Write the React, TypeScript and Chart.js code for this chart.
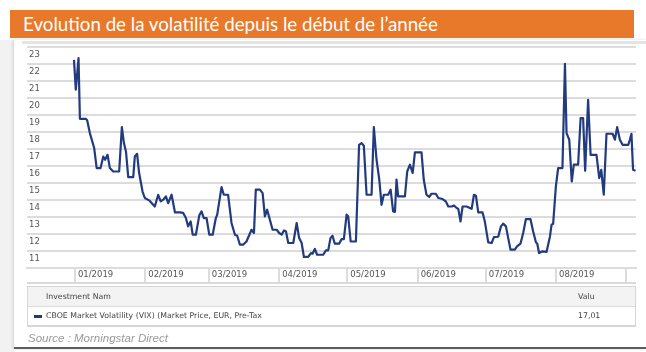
import React, { useEffect, useRef } from 'react';
import { Chart, registerables } from 'chart.js';

Chart.register(...registerables);

// Month separators (days since 2019-01-01) and their labels
const monthTickDays = [0, 31, 59, 90, 120, 151, 181, 212, 243];
const monthTickLabels = ['01/2019', '02/2019', '03/2019', '04/2019', '05/2019', '06/2019', '07/2019', '08/2019', ''];
const yTickLabels = ['11', '12', '13', '14', '15', '16', '17', '18', '19', '20', '21', '22', '23'];

// Series: day offset since 2019-01-01 and VIX value
const dayOffsets = [
  -0.4, 0.4, 1.6, 2.2, 4.8, 5.4, 6.6, 8.5, 9.6, 11.3, 12.5, 13.3, 14.4, 15.4, 16.9, 19.5, 20.7, 21.6, 22.5, 23.5,
  25.7, 26.4, 27.4, 28.3, 29.8, 30.8, 32.7, 35.2, 36.7, 37.8, 38.9, 40.1, 41.1, 42.6, 44.1, 46.3, 47.7, 48.9, 49.9, 51.0,
  51.9, 53.3, 54.8, 55.8, 56.8, 58.0, 59.2, 60.7, 62.1, 62.7, 64.6, 65.6, 67.5, 69.0, 70.5, 71.5, 72.7, 74.1, 75.6, 77.8,
  78.9, 79.7, 81.5, 82.7, 83.7, 84.7, 85.9, 87.1, 88.9, 90.0, 91.1, 92.1, 93.0, 94.0, 96.2, 97.7, 98.8, 99.9, 100.9, 102.8,
  104.0, 104.7, 105.7, 106.7, 109.4, 110.6, 111.6, 112.6, 113.5, 114.5, 116.4, 117.5, 118.5, 119.7, 120.4, 121.5, 123.8, 125.2, 126.3, 127.3,
  128.5, 130.7, 131.7, 132.9, 134.1, 135.1, 136.1, 138.0, 139.1, 140.2, 141.0, 141.7, 142.4, 145.4, 146.4, 147.6, 148.8, 149.8, 152.7, 153.7,
  154.9, 156.1, 157.1, 159.0, 160.1, 162.0, 163.4, 164.5, 166.0, 167.0, 168.2, 168.9, 169.9, 170.8, 172.6, 174.0, 174.8, 175.8, 176.7, 177.7,
  179.6, 180.6, 182.1, 183.6, 184.6, 186.5, 187.7, 188.7, 189.9, 190.9, 191.9, 193.8, 194.8, 196.3, 197.5, 198.7, 200.7, 201.9, 203.1, 203.7,
  204.5, 206.0, 207.8, 209.3, 210.0, 210.7, 211.9, 212.9, 214.8, 215.9, 216.6, 217.8, 218.9, 219.8, 221.7, 222.8, 223.9, 224.8, 226.1, 227.2,
  229.8, 231.0, 231.9, 233.0, 234.2, 236.9, 237.9, 238.9, 240.1, 241.3, 243.8, 244.5, 245.2, 245.9, 247.0,
];
const vixValues = [
  22.75, 21.0, 22.85, 19.28, 19.28, 19.2, 18.44, 17.56, 16.38, 16.38, 17.06, 16.87, 17.16, 16.38, 16.18, 16.18, 18.79, 17.85, 17.36, 15.85,
  15.85, 17.06, 17.22, 16.09, 15.0, 14.62, 14.48, 14.12, 14.81, 14.42, 14.52, 14.71, 14.32, 14.81, 13.77, 13.77, 13.74, 13.44, 12.95, 13.24,
  12.46, 12.46, 13.6, 13.83, 13.44, 13.44, 12.46, 12.46, 13.44, 13.64, 15.26, 14.81, 14.81, 13.15, 12.46, 12.4, 11.87, 11.87, 12.06, 12.75,
  12.56, 15.11, 15.11, 14.91, 13.54, 13.93, 13.34, 12.75, 12.75, 12.56, 12.46, 12.71, 12.65, 11.97, 11.97, 13.15, 12.26, 11.97, 11.15, 11.15,
  11.38, 11.34, 11.62, 11.28, 11.28, 11.54, 11.54, 12.26, 12.4, 11.93, 11.93, 12.2, 12.2, 13.64, 13.54, 12.06, 12.06, 17.75, 17.85, 17.69,
  14.81, 14.81, 18.79, 16.87, 15.7, 14.22, 14.81, 14.81, 15.11, 13.83, 13.8, 15.7, 14.71, 14.71, 16.18, 16.58, 16.09, 17.3, 17.3, 15.69,
  14.81, 14.68, 14.87, 14.87, 14.62, 14.56, 14.42, 14.12, 14.12, 14.18, 14.03, 13.98, 13.24, 14.12, 14.12, 14.03, 13.98, 14.81, 14.75, 13.77,
  13.77, 13.24, 12.01, 11.97, 12.32, 12.34, 12.95, 13.11, 12.95, 12.26, 11.58, 11.58, 11.77, 11.93, 12.56, 13.38, 13.38, 12.65, 12.01, 11.93,
  11.38, 11.48, 11.45, 12.36, 13.05, 13.1, 15.3, 16.38, 16.38, 22.52, 18.44, 18.05, 15.59, 16.58, 16.58, 19.32, 19.32, 16.22, 20.4, 17.16,
  17.16, 15.79, 16.28, 14.81, 18.4, 18.4, 18.05, 18.79, 18.05, 17.75, 17.75, 18.05, 18.4, 16.28, 16.22,
];

const seriesName = 'CBOE Market Volatility (VIX) (Market Price, EUR, Pre-Tax';
const seriesValue = '17,01';

const NAVY = '#223a7e';
const GRID = '#dcdcdc';
const AXIS_FONT = { family: 'DejaVu Sans', size: 8.5 };

function VolChart() {
  const ref = useRef<HTMLCanvasElement | null>(null);
  useEffect(() => {
    if (!ref.current) return;
    const chart = new Chart(ref.current, {
      type: 'line',
      data: {
        datasets: [
          {
            label: seriesName,
            data: dayOffsets.map((d, i) => ({ x: d, y: vixValues[i] })),
            borderColor: NAVY,
            borderWidth: 2.2,
            pointRadius: 0,
            tension: 0,
            fill: false,
            borderJoinStyle: 'round',
          },
        ],
      },
      options: {
        animation: false,
        responsive: false,
        devicePixelRatio: 1,
        layout: { padding: { left: 27, right: 10, top: 7, bottom: 0 } },
        plugins: { legend: { display: false }, tooltip: { enabled: false } },
        scales: {
          x: {
            type: 'linear',
            min: -21.1,
            max: 247.2,
            afterBuildTicks: (scale: any) => {
              scale.ticks = monthTickDays.map((v) => ({ value: v }));
            },
            afterFit: (scale: any) => {
              scale.height = 17;
            },
            grid: {
              drawOnChartArea: false,
              drawTicks: true,
              tickLength: 15,
              color: GRID,
              lineWidth: 2,
            },
            border: { display: true, color: GRID, width: 2 },
            ticks: {
              autoSkip: false,
              maxRotation: 0,
              minRotation: 0,
              align: 'start',
              labelOffset: 3,
              padding: -13,
              color: '#555',
              font: AXIS_FONT,
              callback: (v: any) => {
                const i = monthTickDays.indexOf(Number(v));
                return i >= 0 ? monthTickLabels[i] : '';
              },
            },
          },
          y: {
            type: 'linear',
            min: 10.5,
            max: 23.5,
            afterBuildTicks: (scale: any) => {
              scale.ticks = [{ value: 10.5 }].concat(yTickLabels.map((l) => ({ value: Number(l) + 0.5 })));
            },
            afterFit: (scale: any) => {
              scale.width = 0;
            },
            grid: { color: GRID, lineWidth: 2, drawTicks: false },
            border: { display: false },
            ticks: {
              mirror: true,
              padding: 2,
              labelOffset: 7.5,
              color: '#555',
              font: AXIS_FONT,
              callback: (v: any) => {
                const lbl = String(Number(v) - 0.5);
                return yTickLabels.includes(lbl) ? lbl : '';
              },
            },
          },
        },
      },
    } as any);
    return () => chart.destroy();
  }, []);
  return <canvas ref={ref} width={646} height={245} style={{ position: 'absolute', left: 0, top: 40, width: 646, height: 245 }} />;
}

export default function App() {
  const small = { fontFamily: 'DejaVu Sans', fontSize: 7.8, color: '#444', position: 'absolute' as const, whiteSpace: 'nowrap' as const };
  return (
    <div style={{ position: 'fixed', left: 0, top: 0, width: 646, height: 352, background: '#fff', overflow: 'hidden' }}>
      <div style={{ position: 'absolute', left: 0, top: 40, width: 14, height: 312, background: '#f2f2f2' }} />
      <div
        style={{
          position: 'absolute',
          left: 14,
          top: 40,
          width: 632,
          height: 307,
          background: '#fff',
          boxShadow: '-1px 0 3px rgba(0,0,0,0.15)',
          borderBottom: '2px solid #5c5c5c',
        }}
      />
      <div style={{ position: 'absolute', left: 22, top: 41, width: 624, height: 3, background: '#e4e4e4' }} />
      <div
        style={{
          position: 'absolute',
          left: 10,
          top: 10,
          width: 624,
          height: 28,
          background: '#E8792A',
          color: '#fff',
          fontFamily: 'Lato, sans-serif',
          fontSize: 19.5,
          lineHeight: '28px',
          whiteSpace: 'nowrap',
        }}
      >
        <span style={{ position: 'absolute', left: 13, top: 0, transformOrigin: 'left center', transform: 'scaleX(0.96)' }}>
          Evolution de la volatilité depuis le début de l’année
        </span>
      </div>
      <VolChart />
      <div style={{ position: 'absolute', left: 27, top: 282, width: 609, height: 2, background: '#dadada' }} />
      <div
        style={{
          position: 'absolute',
          left: 27,
          top: 286,
          width: 607,
          height: 38,
          border: '1px solid #d6d6d6',
          borderBottom: '2px solid #d6d6d6',
        }}
      >
        <div style={{ position: 'absolute', left: 0, top: 0, width: 607, height: 19, background: '#f3f3f3', borderBottom: '1px solid #dcdcdc' }} />
        <div style={{ ...small, left: 18, top: 5 }}>Investment Nam</div>
        <div style={{ ...small, left: 550, top: 5 }}>Valu</div>
        <div style={{ position: 'absolute', left: 6, top: 28, width: 8, height: 3, background: NAVY }} />
        <div style={{ ...small, left: 18, top: 24 }}>{seriesName}</div>
        <div style={{ ...small, left: 550, top: 24 }}>{seriesValue}</div>
      </div>
      <div
        style={{
          position: 'absolute',
          left: 28,
          top: 332,
          fontFamily: '"Liberation Sans", Arial, sans-serif',
          fontStyle: 'italic',
          fontSize: 11.5,
          color: '#999',
        }}
      >
        Source : Morningstar Direct
      </div>
    </div>
  );
}
